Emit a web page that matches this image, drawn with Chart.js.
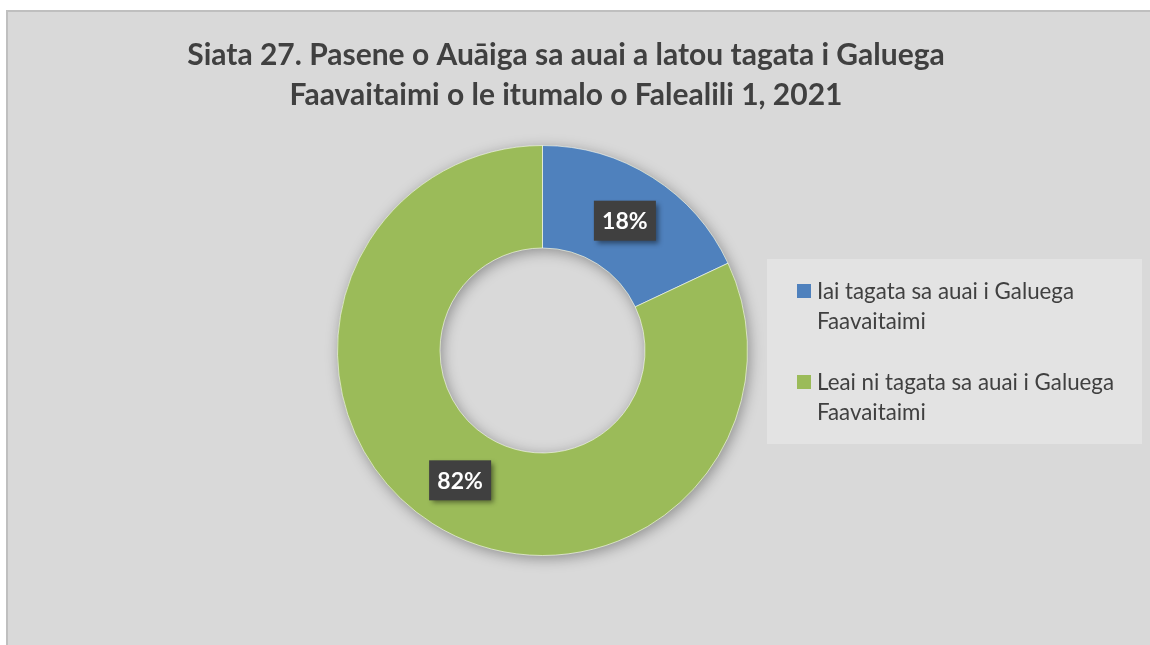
<!DOCTYPE html>
<html><head><meta charset="utf-8">
<script src="https://cdn.jsdelivr.net/npm/chart.js@4/dist/chart.umd.min.js"></script>
<style>html,body{margin:0;padding:0;background:#fff;overflow:hidden}#wrap{position:absolute;left:0;top:0;width:1150px;height:645px}</style>
</head><body><div id="wrap"><canvas id="c" width="1150" height="645"></canvas></div>
<script>
const titleLines = ["Siata 27. Pasene o Auāiga sa auai a latou tagata i Galuega", "Faavaitaimi o le itumalo o Falealili 1, 2021"];
const categories = [["Iai tagata sa auai i Galuega", "Faavaitaimi"], ["Leai ni tagata sa auai i Galuega", "Faavaitaimi"]];
const values = [18, 82];
const valueLabels = ["18%", "82%"];
const colors = ["#4f81bd", "#9bbb59"];

const FONT = "Lato, 'Open Sans', sans-serif";

const framePlugin = {
  id: 'frame',
  beforeDraw(chart) {
    const ctx = chart.ctx;
    ctx.save();
    ctx.fillStyle = '#ffffff';
    ctx.fillRect(0, 0, chart.width, chart.height);
    ctx.fillStyle = '#d9d9d9';
    ctx.fillRect(7, 10, chart.width - 7, chart.height - 10);
    ctx.fillStyle = '#bfbfbf';
    ctx.fillRect(6, 10, 2, chart.height - 10);
    ctx.fillRect(6, 10, chart.width - 6, 2);
    // title
    ctx.fillStyle = '#404040';
    ctx.font = "bold 30px " + FONT;
    ctx.textAlign = 'center';
    ctx.textBaseline = 'middle';
    ctx.fillText(titleLines[0], 566, 55);
    ctx.fillText(titleLines[1], 566, 95);
    // legend box
    ctx.fillStyle = '#e3e3e3';
    ctx.fillRect(767, 259, 375, 185);
    // size legend font so the word widths match the reference
    ctx.font = "20px " + FONT;
    const w20 = ctx.measureText("Faavaitaimi").width;
    const size = Math.max(18, Math.min(24, 20 * 109 / w20));
    ctx.font = size.toFixed(1) + "px " + FONT;
    const wLine = ctx.measureText("Iai tagata sa auai i Galuega").width;
    const extra = Math.max(0, Math.min(6, (257 - wLine) / 5));
    if ('wordSpacing' in ctx) ctx.wordSpacing = extra.toFixed(1) + 'px';
    ctx.textAlign = 'left';
    const starts = [292, 383];
    categories.forEach((lines, i) => {
      const y = starts[i];
      ctx.fillStyle = colors[i];
      ctx.fillRect(797, y - 8, 14, 14);
      ctx.fillStyle = '#404040';
      lines.forEach((l, j) => ctx.fillText(l, 817, y + j * 30));
    });
    ctx.restore();
  },
  beforeDatasetsDraw(chart) {
    const meta = chart.getDatasetMeta(0);
    const a = meta.data[0];
    if (!a) return;
    const ctx = chart.ctx;
    ctx.save();
    ctx.shadowColor = 'rgba(0,0,0,0.35)';
    ctx.shadowBlur = 14;
    ctx.shadowOffsetX = 2;
    ctx.shadowOffsetY = 3;
    ctx.fillStyle = '#9bbb59';
    ctx.beginPath();
    ctx.arc(a.x, a.y, a.outerRadius, 0, Math.PI * 2);
    ctx.arc(a.x, a.y, a.innerRadius, 0, Math.PI * 2, true);
    ctx.fill();
    ctx.restore();
  },
  afterDatasetsDraw(chart) {
    const meta = chart.getDatasetMeta(0);
    const ctx = chart.ctx;
    meta.data.forEach((el, i) => {
      const p = el.tooltipPosition();
      ctx.save();
      ctx.shadowColor = 'rgba(0,0,0,0.45)';
      ctx.shadowBlur = 5;
      ctx.shadowOffsetX = 3;
      ctx.shadowOffsetY = 3;
      ctx.fillStyle = '#404040';
      ctx.fillRect(p.x - 31, p.y - 20, 62, 40);
      ctx.restore();
      ctx.save();
      ctx.fillStyle = '#ffffff';
      ctx.font = "bold 23px " + FONT;
      ctx.textAlign = 'center';
      ctx.textBaseline = 'middle';
      ctx.fillText(valueLabels[i], p.x, p.y + 1);
      ctx.restore();
    });
  }
};

new Chart(document.getElementById('c'), {
  type: 'doughnut',
  data: {
    labels: categories,
    datasets: [{
      data: values,
      backgroundColor: colors,
      borderColor: 'rgba(255,255,255,0.6)',
      borderWidth: 1
    }]
  },
  options: {
    responsive: false,
    animation: false,
    cutout: '50%',
    layout: { padding: { left: 337, right: 402, top: 145, bottom: 89 } },
    plugins: {
      legend: { display: false },
      title: { display: false },
      tooltip: { enabled: false }
    }
  },
  plugins: [framePlugin]
});
</script>
</body></html>
